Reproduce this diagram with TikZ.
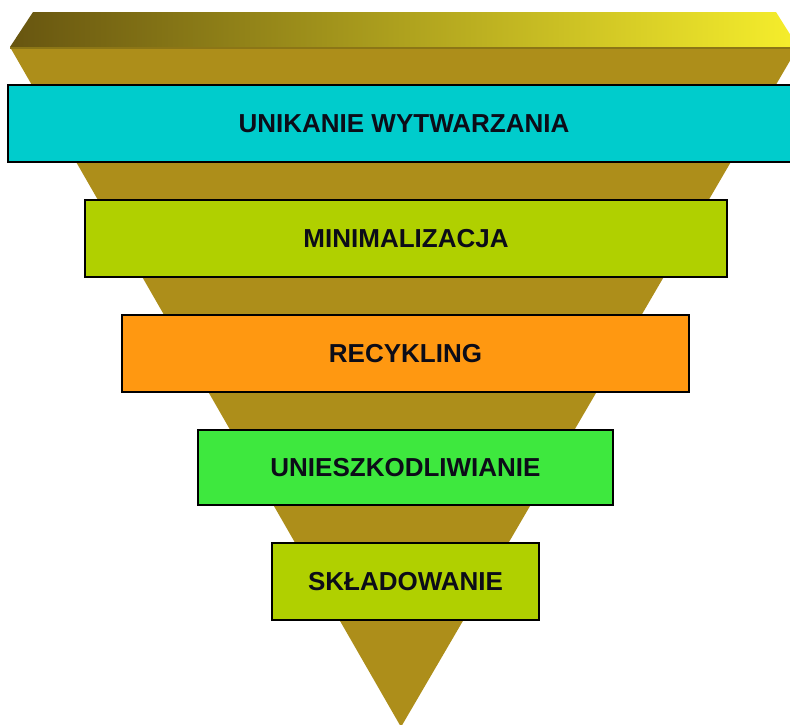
\documentclass[tikz,border=0pt]{standalone}
\usepackage{fontspec}
\setmainfont{Liberation Sans}
\definecolor{bodyc}{HTML}{AD8E1A}
\definecolor{topL}{HTML}{675510}
\definecolor{topM}{HTML}{A9A022}
\definecolor{topR}{HTML}{F6EE2C}
\definecolor{bandc}{HTML}{8C7616}
\definecolor{cyanc}{HTML}{00CCCC}
\definecolor{limec}{HTML}{B0D000}
\definecolor{orangec}{HTML}{FF9811}
\definecolor{greenc}{HTML}{3EE83E}
\definecolor{txt}{HTML}{0C0C18}
\begin{document}
\begin{tikzpicture}[x=1pt,y=-1pt,
  box/.style={draw=black, line width=1.2pt, inner sep=0pt,
    font=\fontsize{26}{30}\selectfont\bfseries, text=txt}]
\useasboundingbox (0,0) rectangle (790,724);
\clip (0,0) rectangle (790,724);
% cone body
\fill[bodyc] (10,47) -- (798,47) -- (401,727) -- cycle;
% top face
\shade[left color=topL, middle color=topM, right color=topR]
  (33,12) -- (776,12) -- (798,47) -- (10,47) -- cycle;
\draw[line width=2.5pt, bandc] (10,48) -- (798,48);
% levels
\node[box, fill=cyanc, minimum width=792pt, minimum height=77pt] (n1) at (404,123.5) {UNIKANIE WYTWARZANIA};
\node[box, fill=limec, minimum width=642pt, minimum height=77pt] (n2) at (406,238.5) {MINIMALIZACJA};
\node[box, fill=orangec, minimum width=567pt, minimum height=77pt] (n3) at (405.5,353.5) {RECYKLING};
\node[box, fill=greenc, minimum width=415pt, minimum height=75pt] (n4) at (405.5,467.5) {UNIESZKODLIWIANIE};
\node[box, fill=limec, minimum width=267pt, minimum height=77pt] (n5) at (405.5,581.5) {SKŁADOWANIE};
\end{tikzpicture}
\end{document}
